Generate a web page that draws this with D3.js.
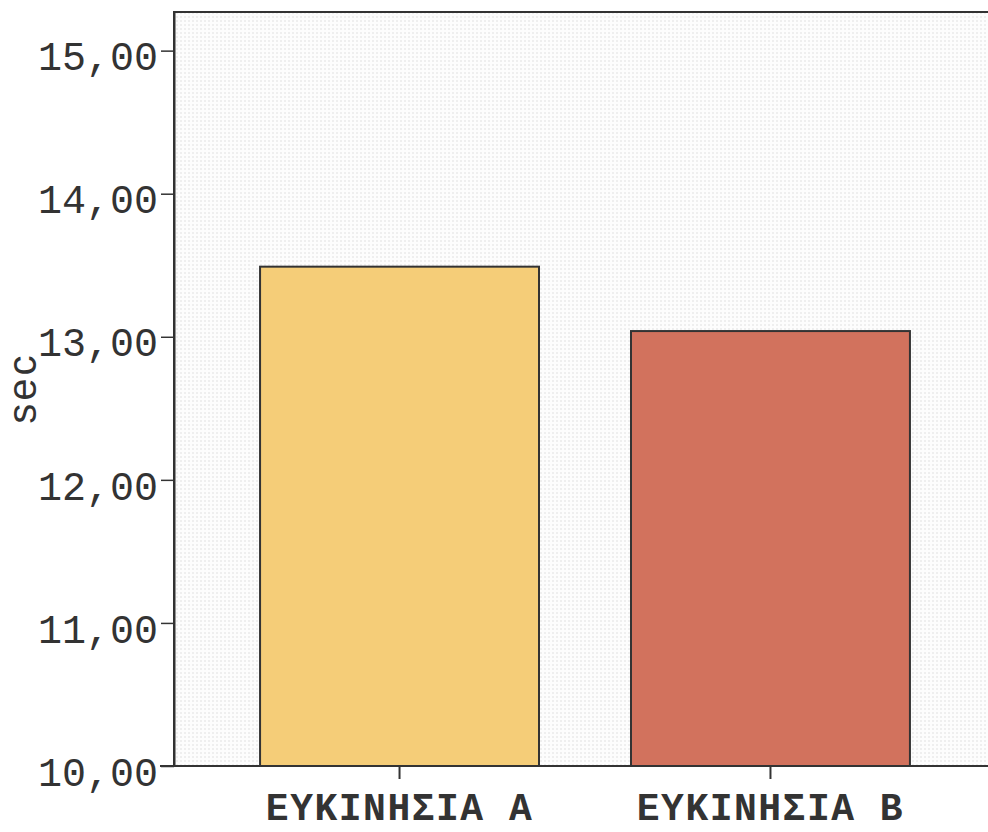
<!DOCTYPE html>
<html>
<head>
<meta charset="utf-8">
<script src="https://cdn.jsdelivr.net/npm/d3@7/dist/d3.min.js"></script>
<style>
    body { margin: 0; background: #fff; }
    .tick text { font-family: "Liberation Mono", "DejaVu Sans Mono", monospace; fill: #333; }
</style>
</head>
<body>
<script>
// data
var categories = ['ΕΥΚΙΝΗΣΙΑ Α', 'ΕΥΚΙΝΗΣΙΑ Β'];
var values = [13.49, 13.04];
var barColors = ['#f5cd78', '#d2725d'];
var yTicks = [10, 11, 12, 13, 14, 15];

var width = 988,
    height = 832;

var margin = {top: 12, left: 174, bottom: 66};

var svg = d3.select('body')
    .append('svg')
    .attr('width', width)
    .attr('height', height);

var defs = svg.append('defs');
var pat = defs.append('pattern')
    .attr('id', 'dots')
    .attr('width', 4)
    .attr('height', 4)
    .attr('patternUnits', 'userSpaceOnUse');
pat.append('rect').attr('width', 4).attr('height', 4).attr('fill', '#fdfdfd');
pat.append('rect').attr('width', 2).attr('height', 2).attr('fill', '#efefef');

var y = d3.scaleLinear()
    .domain([10, 15.27])
    .range([height - margin.bottom, margin.top]);

var x = d3.scaleBand()
    .domain(categories)
    .range([margin.left, 996])
    .paddingInner(0.248)
    .paddingOuter(0.232);

// plot background
svg.append('rect')
    .attr('x', margin.left)
    .attr('y', margin.top)
    .attr('width', width - margin.left)
    .attr('height', y(10) - margin.top)
    .attr('fill', 'url(#dots)');

// frame top + left
svg.append('path')
    .attr('d', 'M' + margin.left + ',' + y(10) + 'V' + margin.top + 'H' + width)
    .attr('fill', 'none')
    .attr('stroke', '#333')
    .attr('stroke-width', 2);

svg.append('g')
    .selectAll('rect')
    .data(values).enter()
    .append('rect')
    .attr('x', (d, i) => x(categories[i]))
    .attr('y', d => y(d))
    .attr('width', x.bandwidth())
    .attr('height', d => y(10) - y(d))
    .attr('fill', (d, i) => barColors[i])
    .attr('stroke', '#333')
    .attr('stroke-width', 2);

var fmt = d => d3.format('.2f')(d).replace('.', ',');

var yAxis = svg.append('g')
    .attr('transform', 'translate(' + margin.left + ',0)')
    .call(d3.axisLeft(y).tickValues(yTicks).tickFormat(fmt)
        .tickSize(13).tickSizeOuter(0).tickPadding(3));
yAxis.select('.domain').attr('stroke', '#333').attr('stroke-width', 2);
yAxis.selectAll('.tick line').attr('stroke', '#333').attr('stroke-width', 1.5);
yAxis.selectAll('.tick text')
    .attr('font-size', 40)
    .attr('dy', '0.48em');

var xAxis = svg.append('g')
    .attr('transform', 'translate(0,' + y(10) + ')')
    .call(d3.axisBottom(x).tickSize(13).tickPadding(14).tickSizeOuter(0));
xAxis.select('.domain')
    .attr('d', 'M' + (margin.left - 14) + ',0H' + width)
    .attr('stroke', '#333')
    .attr('stroke-width', 2);
xAxis.selectAll('.tick line').attr('stroke', '#333').attr('stroke-width', 2);
xAxis.selectAll('.tick text')
    .attr('font-size', 38)
    .attr('letter-spacing', 1.5)
    .attr('font-weight', 'bold')
    .attr('fill', '#222');

svg.append('text')
    .attr('transform', 'translate(36,' + 388 + ') rotate(-90)')
    .attr('text-anchor', 'middle')
    .attr('font-family', 'Liberation Sans, Arial, sans-serif')
    .attr('font-size', 40)
    .attr('letter-spacing', 3)
    .attr('fill', '#333')
    .text('sec');
</script>
</body>
</html>
